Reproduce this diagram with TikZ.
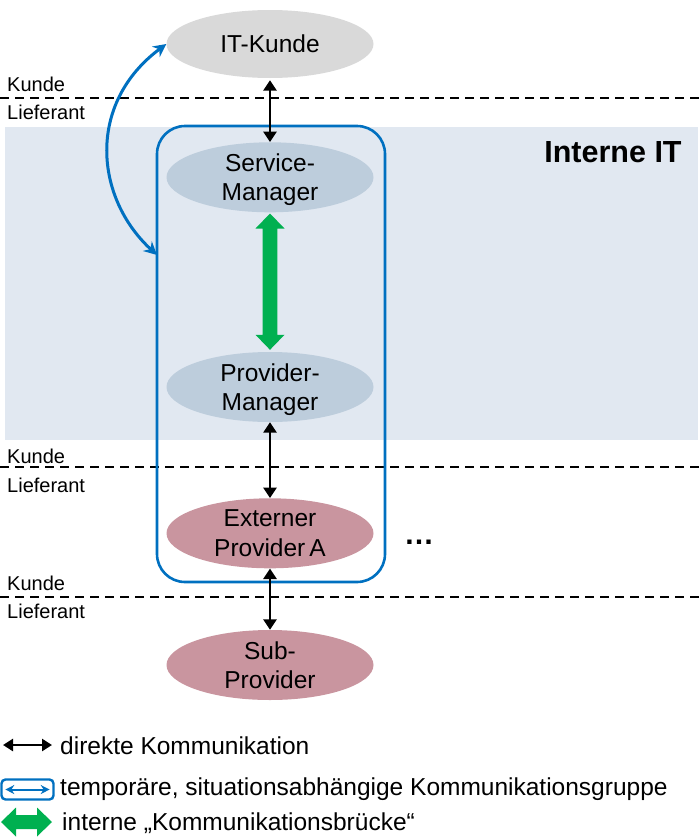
\documentclass[tikz,border=0pt]{standalone}
\usepackage{fontspec}
\setmainfont{Liberation Sans}
\usetikzlibrary{arrows.meta,shapes.geometric,calc}

\definecolor{bandfill}{HTML}{E1E8F1}
\definecolor{custfill}{HTML}{D9D9D9}
\definecolor{mgrfill}{HTML}{BDCDDC}
\definecolor{extfill}{HTML}{C9959F}
\definecolor{grpblue}{HTML}{0070C0}
\definecolor{bridgegreen}{HTML}{00B050}

\tikzset{
  party/.style={ellipse, minimum width=207pt, minimum height=70pt, inner sep=0pt,
    align=center, text depth=0pt, font=\fontsize{24.5}{29.5}\selectfont},
  roleline/.style={line width=2pt, dash pattern=on 9pt off 6pt},
  rolelabel/.style={anchor=west, inner sep=0pt, font=\fontsize{20}{22}\selectfont},
  direct/.style={line width=2.8pt, {Triangle[width=13pt,length=10.5pt]}-{Triangle[width=13pt,length=10.5pt]}},
  tempgroup/.style={draw=grpblue, line width=2.6pt, rounded corners=28pt},
  temparrow/.style={draw=grpblue, line width=3pt, {Stealth[width=13pt,length=13pt]}-{Stealth[width=13pt,length=13pt]}},
  bridge/.style={fill=bridgegreen},
  legendtext/.style={anchor=west, inner sep=0pt, font=\fontsize{24.5}{28}\selectfont},
}

\begin{document}
\begin{tikzpicture}[x=1pt,y=-1pt]
\useasboundingbox (0,0) rectangle (700,838);

% band of the internal IT
\fill[bandfill] (5,127) rectangle (698,440);
\node[anchor=center, inner sep=0pt, font=\bfseries\fontsize{30.5}{34}\selectfont] (internal) at (613,152.5) {Interne IT};

% customer / supplier boundaries
\draw[roleline] (0,98) -- (700,98);
\draw[roleline] (0,467) -- (700,467);
\draw[roleline] (0,597) -- (700,597);
\node[rolelabel] (k1) at (7,84) {Kunde};
\node[rolelabel] (l1) at (7,112) {Lieferant};
\node[rolelabel] (k2) at (7,456) {Kunde};
\node[rolelabel] (l2) at (7,485) {Lieferant};
\node[rolelabel] (k3) at (7,583) {Kunde};
\node[rolelabel] (l3) at (7,611) {Lieferant};

% temporary communication group
\node[tempgroup, minimum width=228pt, minimum height=456pt] (grp) at (271,354) {};
\coordinate (grpin) at (157,255);

% parties
\node[party, fill=custfill, minimum height=68pt] (itk) at (270,44) {IT-Kunde};
\node[party, fill=mgrfill] (sm) at (270,177.3) {Service-\\Manager};
\node[party, fill=mgrfill] (pm) at (270,387) {Provider-\\Manager};
\node[party, fill=extfill] (epa) at (270,533.3) {Externer\\Provider\,A};
\node[party, fill=extfill] (sub) at (270,665) {Sub-\\Provider};
\node[anchor=base, inner sep=0pt, font=\bfseries\fontsize{30}{34}\selectfont] (more) at (419,544) {…};

% direct communication
\draw[direct, shorten <=2pt] (itk.south) -- (sm.north);
\draw[direct] (pm.south) -- (epa.north);
\draw[direct] (epa.south) -- (sub.north);

% customer reaches into the group
\draw[temparrow] (grpin) .. controls (95,198) and (86,104) .. (itk.west);

% internal bridge between the two managers
\fill[bridge] let \p1=($(sm.south)+(0,1)$), \p2=($(pm.north)+(0,-2)$) in
  (\x1,\y1) -- (\x1+14.5pt,\y1-15pt) -- (\x1+7.3pt,\y1-15pt) -- (\x1+7.3pt,\y2+15pt)
  -- (\x1+14.5pt,\y2+15pt) -- (\x1,\y2) -- (\x1-14.5pt,\y2+15pt) -- (\x1-7.3pt,\y2+15pt)
  -- (\x1-7.3pt,\y1-15pt) -- (\x1-14.5pt,\y1-15pt) -- cycle;

% legend
\coordinate (la) at (3,745);
\coordinate (lb) at (52,745);
\draw[direct, line width=2.6pt, {Triangle[width=12pt,length=10pt]}-{Triangle[width=12pt,length=10pt]}] (la) -- (lb);
\node[legendtext] (t1) at (60,746) {direkte Kommunikation};

\node[draw=grpblue, line width=2.4pt, rounded corners=4pt, minimum width=52pt, minimum height=20pt, inner sep=0pt] (gicon) at (27.5,789.5) {};
\draw[draw=grpblue, line width=2pt, {Stealth[width=9pt,length=9pt]}-{Stealth[width=9pt,length=9pt]}] ($(gicon.west)+(5,0)$) -- ($(gicon.east)+(-5,0)$);
\node[legendtext] (t2) at (60,789) {temporäre, situationsabhängige Kommunikationsgruppe};

\coordinate (ga) at (1,822);
\coordinate (gb) at (52,822);
\fill[bridge] let \p1=(ga), \p2=(gb) in
  (\x1,\y1) -- (\x1+15pt,\y1+14.5pt) -- (\x1+15pt,\y1+7pt) -- (\x2-15pt,\y2+7pt)
  -- (\x2-15pt,\y2+14.5pt) -- (\x2,\y2) -- (\x2-15pt,\y2-14.5pt) -- (\x2-15pt,\y2-7pt)
  -- (\x1+15pt,\y1-7pt) -- (\x1+15pt,\y1-14.5pt) -- cycle;
\node[legendtext] (t3) at (62,823) {interne „Kommunikationsbrücke“};
\end{tikzpicture}
\end{document}
